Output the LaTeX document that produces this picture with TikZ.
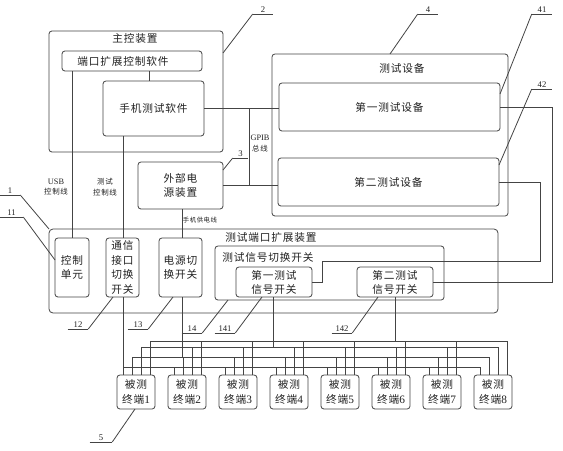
\documentclass[tikz,border=0pt]{standalone}
\usepackage{fontspec}
\setmainfont{Liberation Serif}
\newfontfamily\cjk[LetterSpace=8]{Noto Sans CJK SC}
\usetikzlibrary{calc}
\definecolor{lc}{HTML}{444444}
\definecolor{tc}{HTML}{222222}
\begin{document}
\begin{tikzpicture}[x=0.75pt,y=-0.75pt,
  box/.style={draw=lc, line width=0.6pt, rounded corners=2.2pt, inner sep=0pt, outer sep=0pt,
    font=\cjk\fontsize{8}{10.5}\selectfont, text=tc, align=center},
  txt/.style={inner sep=0pt, font=\cjk\fontsize{8}{10.5}\selectfont, text=tc, align=center},
  small/.style={inner sep=0pt, font=\cjk\fontsize{5.6}{8}\selectfont, text=tc, align=center},
  tiny/.style={inner sep=0pt, font=\cjk\fontsize{4.8}{6}\selectfont, text=tc},
  wire/.style={draw=lc, line width=0.6pt},
  num/.style={inner xsep=0pt, inner ysep=1pt, anchor=south, text height=4.6pt, text depth=0pt,
    font=\fontsize{6.5}{7}\selectfont, text=tc}]
\fill[white] (0,0) rectangle (563,450);
\useasboundingbox (0,0) rectangle (563,450);

% ---------- boxes ----------
\node[box, minimum width=174*0.75pt, minimum height=121*0.75pt] (main) at (136,91.5) {};
\node[txt] (tmain) at (135,38.5) {主控装置};
\node[box, minimum width=140*0.75pt, minimum height=20*0.75pt] (portsw) at (132,61) {};
\node[txt] (tport) at (123,61) {端口扩展控制软件};
\node[box, minimum width=101*0.75pt, minimum height=55*0.75pt] (mobsw) at (153.5,108.5) {手机测试软件};

\node[box, minimum width=236*0.75pt, minimum height=162*0.75pt] (testdev) at (390,135) {};
\node[txt] (ttest) at (402,68) {测试设备};
\node[box, minimum width=221*0.75pt, minimum height=48*0.75pt] (dev1) at (389.5,107) {第一测试设备};
\node[box, minimum width=221*0.75pt, minimum height=48*0.75pt] (dev2) at (388.5,182) {第二测试设备};

\node[box, minimum width=85*0.75pt, minimum height=47*0.75pt] (power) at (180.5,185.5) {外部电\\源装置};

\node[box, rounded corners=3pt, minimum width=449*0.75pt, minimum height=84*0.75pt] (expand) at (273.5,271) {};
\node[txt] (texp) at (271,237.5) {测试端口扩展装置};
\node[box, minimum width=34*0.75pt, minimum height=59*0.75pt] (ctrl) at (72,267.5) {控制\\单元};
\node[box, minimum width=33*0.75pt, minimum height=59*0.75pt, font=\cjk\fontsize{8}{11}\selectfont] (comm) at (122.5,267.5) {通信\\接口\\切换\\开关};
\node[box, minimum width=43*0.75pt, minimum height=59*0.75pt] (psw) at (180.5,267.5) {电源切\\换开关};
\node[box, minimum width=229*0.75pt, minimum height=54*0.75pt] (sigsw) at (329.5,273) {};
\node[txt] (tsig) at (268,257) {测试信号切换开关};
\node[box, minimum width=76*0.75pt, minimum height=30*0.75pt] (sw1) at (274,282) {第一测试\\信号开关};
\node[box, minimum width=76*0.75pt, minimum height=30*0.75pt] (sw2) at (395,282) {第二测试\\信号开关};

\foreach \k in {1,...,8}{
  \node[box, minimum width=38*0.75pt, minimum height=34*0.75pt, font=\cjk\fontsize{8}{11}\selectfont]
    (T\k) at ({136+51*(\k-1)},392) {被测\\终端{\rmfamily\fontsize{8.5}{11}\selectfont\k}};
  \coordinate (t\k a) at ($(T\k.north west)+(6,0)$);
  \coordinate (t\k b) at ($(T\k.north west)+(15,0)$);
  \coordinate (t\k c) at ($(T\k.north west)+(24,0)$);
  \coordinate (t\k d) at ($(T\k.north west)+(33,0)$);
}

% ---------- helper coordinates ----------
\coordinate (xm) at (149,0);
\coordinate (xt) at (123,0);
\coordinate (xp) at (182,0);
\coordinate (gx) at (249,0);
\coordinate (r1) at (552,0);
\coordinate (r2) at (540,0);
\coordinate (yr2) at (0,261);
\coordinate (xk) at (322,0);
\coordinate (x1) at (273,0);
\coordinate (x2) at (395,0);
\coordinate (bA) at (0,367);
\coordinate (bB) at (0,357);
\coordinate (bC) at (0,347);
\coordinate (bD) at (0,341);

% ---------- connectors ----------
\draw[wire] (portsw.south -| xm) -- (mobsw.north -| xm);
\draw[wire] (portsw.south -| ctrl.north) -- (ctrl.north);
\draw[wire] (mobsw.south -| xt) -- (comm.north -| xt);
\draw[wire] (comm.south -| xt) -- (t1a);
\draw[wire] (power.south -| xp) -- (psw.north -| xp);
\draw[wire] (psw.south -| xp) -- (xp |- bB);
\draw[wire] (mobsw.east) -- (mobsw.east -| dev1.west);
\draw[wire] (power.east) -- (power.east -| dev2.west);
\draw[wire] (mobsw.east -| gx) -- (power.east -| gx);
\draw[wire] (dev1.east) -- (dev1.east -| r1) -- (r1 |- sw2.east) -- (sw2.east);
\draw[wire] (dev2.east) -- (dev2.east -| r2) -- (r2 |- yr2) -- (xk |- yr2) -- (xk |- sw1.east) -- (sw1.east);
\draw[wire] (sw1.south -| x1) -- (x1 |- bC);
\draw[wire] (sw2.south -| x2) -- (x2 |- bD);

% buses
\draw[wire] (t1a |- bA) -- (t8a |- bA);
\draw[wire] (t1b |- bB) -- (t8b |- bB);
\draw[wire] (t1c |- bC) -- (t8c |- bC);
\draw[wire] (t1d |- bD) -- (t8d |- bD);
\foreach \k in {1,...,8}{
  \draw[wire] (t\k a) -- (t\k a |- bA);
  \draw[wire] (t\k b) -- (t\k b |- bB);
  \draw[wire] (t\k c) -- (t\k c |- bC);
  \draw[wire] (t\k d) -- (t\k d |- bD);
}

% ---------- line labels ----------
\node[small] (lusb) at (56,187) {{\rmfamily\fontsize{6.2}{8}\selectfont USB}\\控制线};
\node[small] (ltc) at (105,187) {测试\\控制线};
\node[small] (lgpib) at (260,143.5) {{\rmfamily\fontsize{6.2}{8}\selectfont GPIB}\\总线};
\node[tiny] (lpow) at (200,220) {手机供电线};

% ---------- reference numerals ----------
\node[num, minimum width=20*0.75pt] (n2) at (263,14) {2};
\node[num, minimum width=20*0.75pt] (n4) at (428,14) {4};
\node[num, minimum width=20*0.75pt] (n41) at (542,14) {41};
\node[num, minimum width=20*0.75pt] (n42) at (542,89) {42};
\node[num, minimum width=15*0.75pt] (n3) at (240.5,158) {3};
\node[num, minimum width=20*0.75pt] (n1) at (10,195) {1};
\node[num, minimum width=23*0.75pt] (n11) at (11.5,217) {11};
\node[num, minimum width=20*0.75pt] (n12) at (78,329) {12};
\node[num, minimum width=20*0.75pt] (n13) at (138,329) {13};
\node[num, minimum width=20*0.75pt] (n14) at (192,333) {14};
\node[num, minimum width=20*0.75pt] (n141) at (225,333) {141};
\node[num, minimum width=20*0.75pt] (n142) at (342,333) {142};
\node[num, minimum width=22*0.75pt] (n5) at (101,442) {5};

\foreach \n in {n2,n4,n41,n42,n3,n1,n11,n12,n13,n14,n141,n142,n5}{
  \draw[wire] (\n.south west) -- (\n.south east);
}
\draw[wire] (n2.south west) -- ($(main.north east)+(0,22)$);
\draw[wire] (n4.south west) -- ($(testdev.north west)+(118,0)$);
\draw[wire] (n41.south west) -- ($(dev1.north east)+(0,11)$);
\draw[wire] (n42.south west) -- ($(dev2.north east)+(0,7)$);
\draw[wire] (n3.south west) -- ($(power.north east)+(0,8)$);
\draw[wire] (n1.south east) -- (expand.north west);
\draw[wire] (n11.south east) -- ($(ctrl.north west)+(0,22)$);
\draw[wire] (n12.south east) -- ($(comm.south west)+(7,0)$);
\draw[wire] (n13.south east) -- ($(psw.south west)+(14,0)$);
\draw[wire] (n14.south east) -- ($(sigsw.south west)+(13,0)$);
\draw[wire] (n141.south east) -- ($(sw1.south west)+(26,0)$);
\draw[wire] (n142.south east) -- ($(sw2.south west)+(21,0)$);
\draw[wire] (n5.south east) -- ($(T1.south west)+(18,0)$);
\end{tikzpicture}
\end{document}
